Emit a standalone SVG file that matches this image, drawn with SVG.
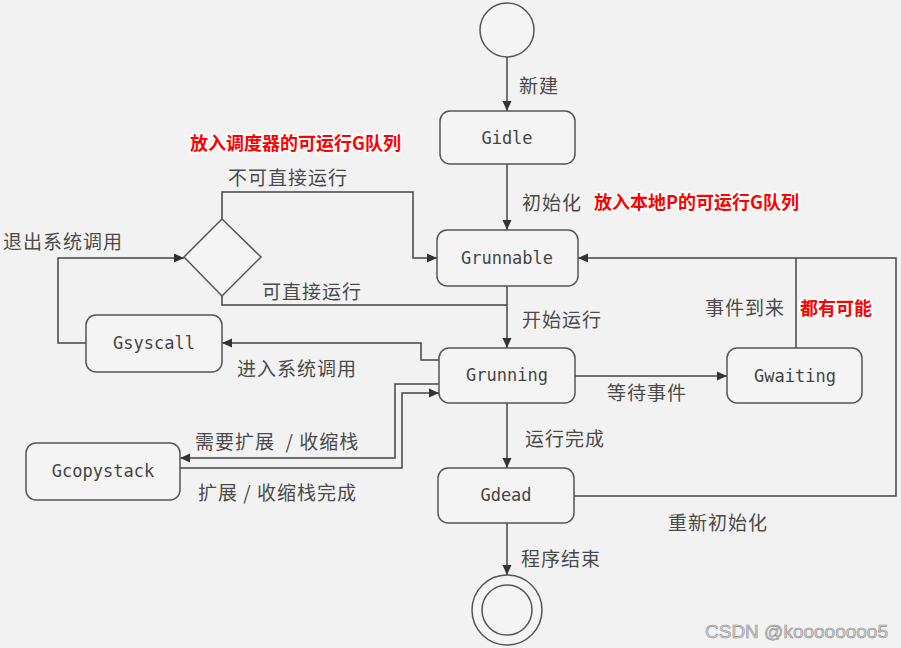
<svg xmlns="http://www.w3.org/2000/svg" width="901" height="648" viewBox="0 0 901 648">
<defs>
<marker id="arr" viewBox="0 0 10 10" refX="10" refY="5" markerWidth="10" markerHeight="10" markerUnits="userSpaceOnUse" orient="auto">
<path d="M0,0.5 L10,5 L0,9.5 Z" fill="#333"/>
</marker>
<style>
.node rect{fill:#f4f4f4;stroke:#555;stroke-width:1.5}
.node circle{fill:#f4f4f4;stroke:#555;stroke-width:1.5}
.node polygon{fill:#f4f4f4;stroke:#555;stroke-width:1.5}
.nt{font-family:"DejaVu Sans Mono","Liberation Mono",monospace;font-size:17px;fill:#444;text-anchor:middle}
.conn path{fill:none;stroke:#444;stroke-width:1.5}
.lb{font-family:"Noto Sans CJK SC","Noto Sans",sans-serif;font-size:19px;fill:#4a4a4a;letter-spacing:1px;white-space:pre}
.red{font-family:"Noto Sans CJK SC","Noto Sans",sans-serif;font-size:18px;font-weight:bold;fill:#f00;stroke:#fff;stroke-width:4;paint-order:stroke;stroke-linejoin:round}
.wm{font-family:"Liberation Sans",Arial,sans-serif;font-size:19px;fill:#d8d8d8;stroke:#8a8a8a;stroke-width:0.6}
</style>
</defs>
<rect x="0" y="0" width="901" height="648" fill="#f2f2f2"/>

<g id="connectors" class="conn">
<path d="M507,57 L507,111" marker-end="url(#arr)"/>
<path d="M507,164 L507,230" marker-end="url(#arr)"/>
<path d="M507,286 L507,348" marker-end="url(#arr)"/>
<path d="M222,296 L222,305 L507,305"/>
<path d="M222,219 L222,192 L413,192 L413,258 L437,258" marker-end="url(#arr)"/>
<path d="M86,343 L58,343 L58,258 L184,258" marker-end="url(#arr)"/>
<path d="M575,376 L727,376" marker-end="url(#arr)"/>
<path d="M796,348 L796,258"/>
<path d="M574,496 L896,496 L896,258 L578,258" marker-end="url(#arr)"/>
<path d="M507,403 L507,468" marker-end="url(#arr)"/>
<path d="M507,523 L507,575" marker-end="url(#arr)"/>
<path d="M439,360 L421,360 L421,343 L222,343" marker-end="url(#arr)"/>
<path d="M439,384 L395,384 L395,458 L180,458" marker-end="url(#arr)"/>
<path d="M180,468 L402,468 L402,393 L439,393" marker-end="url(#arr)"/>
</g>

<g id="start" class="node"><circle cx="507" cy="30" r="27"/></g>
<g id="end" class="node"><circle cx="507" cy="610" r="35"/><circle cx="507" cy="610" r="25"/></g>
<g id="gidle" class="node"><rect x="440" y="111" width="135" height="53" rx="10"/><text class="nt" x="507" y="144">Gidle</text></g>
<g id="grunnable" class="node"><rect x="437" y="230" width="141" height="56" rx="10"/><text class="nt" x="507" y="264">Grunnable</text></g>
<g id="grunning" class="node"><rect x="439" y="348" width="136" height="55" rx="10"/><text class="nt" x="507" y="381">Grunning</text></g>
<g id="gwaiting" class="node"><rect x="727" y="348" width="135" height="55" rx="10"/><text class="nt" x="795" y="382">Gwaiting</text></g>
<g id="gdead" class="node"><rect x="438" y="468" width="136" height="55" rx="10"/><text class="nt" x="506" y="501">Gdead</text></g>
<g id="gsyscall" class="node"><rect x="86" y="315" width="136" height="57" rx="10"/><text class="nt" x="154" y="349">Gsyscall</text></g>
<g id="gcopystack" class="node"><rect x="26" y="443" width="154" height="57" rx="10"/><text class="nt" x="103" y="477">Gcopystack</text></g>
<g id="decision" class="node"><polygon points="222,219 261,257 222,296 184,257"/></g>

<g id="labels">
<text class="lb" x="519" y="93">新建</text>
<text class="lb" x="522" y="210">初始化</text>
<text class="lb" x="522" y="327">开始运行</text>
<text class="lb" x="705" y="315">事件到来</text>
<text class="lb" x="607" y="400">等待事件</text>
<text class="lb" x="525" y="446">运行完成</text>
<text class="lb" x="521" y="566">程序结束</text>
<text class="lb" x="668" y="530">重新初始化</text>
<text class="lb" x="228" y="185">不可直接运行</text>
<text class="lb" x="262" y="299">可直接运行</text>
<text class="lb" x="3" y="249">退出系统调用</text>
<text class="lb" x="237" y="376">进入系统调用</text>
<text class="lb" x="195" y="449">需要扩展  / 收缩栈</text>
<text class="lb" x="198" y="500">扩展 / 收缩栈完成</text>
<text class="red" x="190" y="150">放入调度器的可运行G队列</text>
<text class="red" x="594" y="209">放入本地P的可运行G队列</text>
<text class="red" x="800" y="315">都有可能</text>
<text class="wm" x="705" y="638">CSDN @koooooooo5</text>
</g>
</svg>
